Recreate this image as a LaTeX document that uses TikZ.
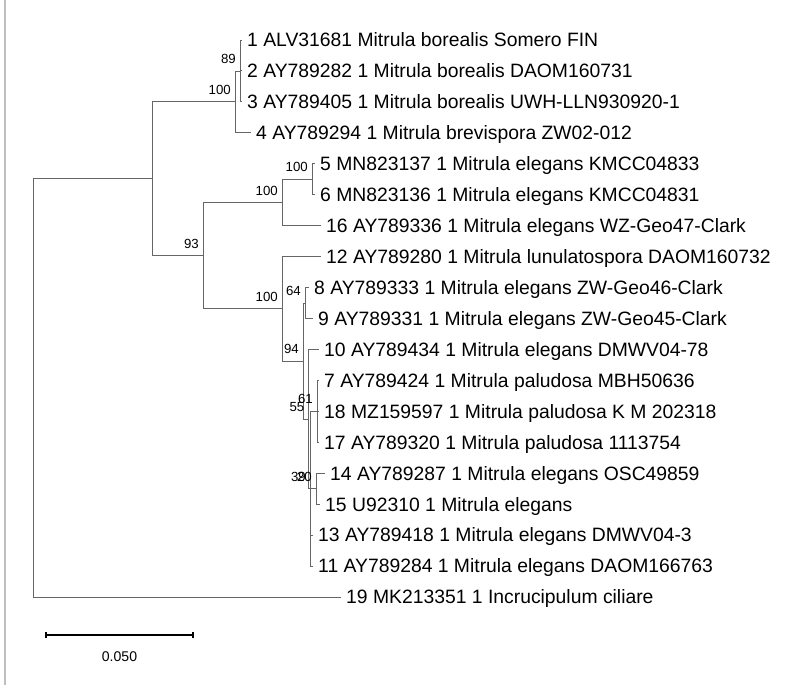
\documentclass[tikz,border=0pt]{standalone}
\usepackage{fontspec}
\setmainfont{Liberation Sans}
\usetikzlibrary{arrows.meta}

\begin{document}
\begin{tikzpicture}[x=0.3mm, y=-0.3mm,
    branch/.style={draw=black!60, line width=0.85pt},
    leaf/.style={anchor=west, inner sep=0pt, xshift=1.5mm, text height=11.9pt, text depth=0pt,
      font=\fontsize{16.5}{18}\selectfont},
    boot/.style={anchor=base east, inner sep=0pt, xshift=-1.2mm, yshift=2.2mm,
      font=\fontsize{11.3}{12}\selectfont},
    scalebar/.style={line width=1.7pt, {Bar[width=1.9mm]}-{Bar[width=1.9mm]}}]
  \useasboundingbox (0,0) rectangle (800,685);
  \draw[black!25, line width=1pt] (5,0) -- (5,685);

  % tips and their names
  \foreach \id/\x/\y/\txt in {
      1/242/40/{1 ALV31681 Mitrula borealis Somero FIN},
      2/242/70.9/{2 AY789282 1 Mitrula borealis DAOM160731},
      3/242/101.9/{3 AY789405 1 Mitrula borealis UWH-LLN930920-1},
      4/251/132.8/{4 AY789294 1 Mitrula brevispora ZW02-012},
      5/315/163.8/{5 MN823137 1 Mitrula elegans KMCC04833},
      6/315/194.7/{6 MN823136 1 Mitrula elegans KMCC04831},
      16/321/225.6/{16 AY789336 1 Mitrula elegans WZ-Geo47-Clark},
      12/321/256.6/{12 AY789280 1 Mitrula lunulatospora DAOM160732},
      8/309/287.5/{8 AY789333 1 Mitrula elegans ZW-Geo46-Clark},
      9/313/318.5/{9 AY789331 1 Mitrula elegans ZW-Geo45-Clark},
      10/319/349.4/{10 AY789434 1 Mitrula elegans DMWV04-78},
      7/319/380.3/{7 AY789424 1 Mitrula paludosa MBH50636},
      18/319/411.3/{18 MZ159597 1 Mitrula paludosa K M 202318},
      17/319/442.2/{17 AY789320 1 Mitrula paludosa 1113754},
      14/325/473.2/{14 AY789287 1 Mitrula elegans OSC49859},
      15/320/504.1/{15 U92310 1 Mitrula elegans},
      13/313/535/{13 AY789418 1 Mitrula elegans DMWV04-3},
      11/313/566/{11 AY789284 1 Mitrula elegans DAOM166763},
      19/341/597/{19 MK213351 1 Incrucipulum ciliare}}
  {
    \coordinate (t\id) at (\x,\y);
    \node[leaf] (n\id) at (t\id) {\txt};
  }

  % internal nodes
  \coordinate (R) at (33,387.9);
  \coordinate (A) at (152,178.7);
  \coordinate (B) at (235,101.9);
  \coordinate (C) at (240,71);
  \coordinate (D) at (203,255.6);
  \coordinate (E) at (282,202.4);
  \coordinate (G) at (312,179.3);
  \coordinate (F) at (282,308.8);
  \coordinate (I) at (303,361);
  \coordinate (H) at (305,303);
  \coordinate (J) at (308.5,419);
  \coordinate (M) at (310,488.6);
  \coordinate (K) at (317,411.3);
  \coordinate (L) at (316,488.6);

  \foreach \p/\c in {R/A, R/t19, A/B, A/D, B/C, B/t4, C/t1, C/t2, C/t3,
      D/E, D/F, E/G, E/t16, G/t5, G/t6, F/t12, F/I, I/H, I/J, H/t8, H/t9,
      J/t10, J/M, M/K, M/L, M/t13, M/t11, K/t7, K/t18, K/t17, L/t14, L/t15}
    \draw[branch] (\p) |- (\c);

  % bootstrap values
  \foreach \c/\v in {C/89, B/100, D/93, E/100, G/100, F/100, I/94, H/64,
      J/55, K/61, M/39, L/20}
    \node[boot] (b\c) at (\c) {\v};

  % scale
  \coordinate (s0) at (45,635);
  \coordinate (s1) at (194,635);
  \draw[scalebar] (s0) -- (s1);
  \node[font=\fontsize{12}{14}\selectfont] (sl) at (119.5,657) {0.050};
\end{tikzpicture}
\end{document}
